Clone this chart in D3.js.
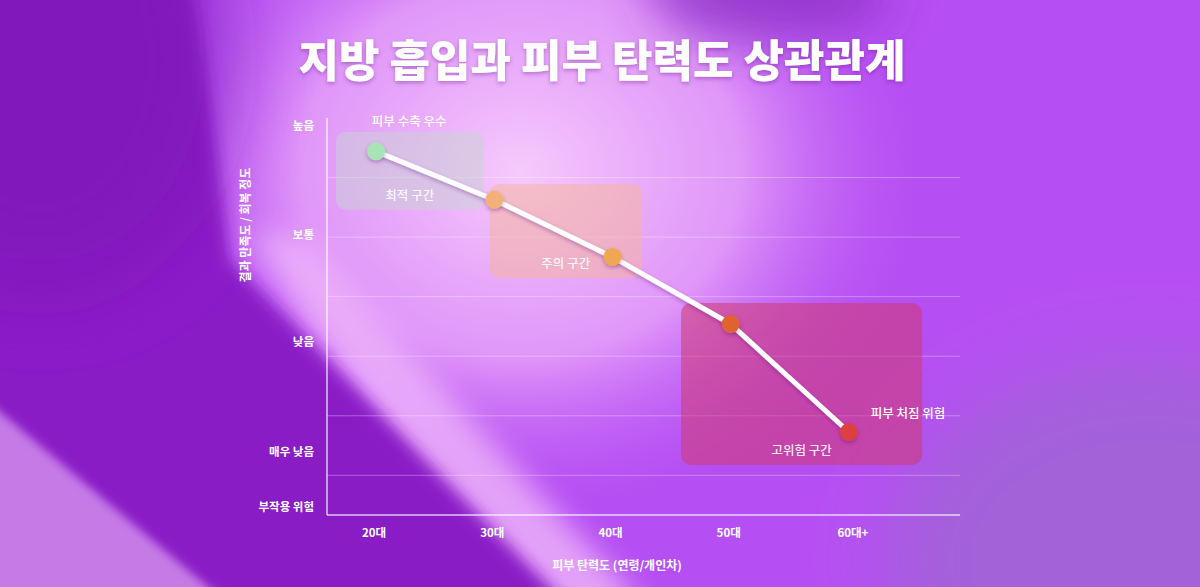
<!DOCTYPE html>
<html>
<head>
<meta charset="utf-8">
<script src="https://cdn.jsdelivr.net/npm/d3@7"></script>
<style>
  html, body { margin: 0; padding: 0; background: #b54ef2; }
  svg { display: block; font-family: "Noto Sans CJK KR", "Noto Sans", sans-serif; }
</style>
</head>
<body>
<div class="chart"></div>
<script>
// data
const ages = [20, 30, 40, 50, 60]
const ageLabels = ["20대", "30대", "40대", "50대", "60대+"]
const recovery = [91.6, 79.4, 65, 48.1, 20.9]
const pointColors = ["#a7e4b6", "#f2b277", "#eea752", "#e0622f", "#dc4141"]

const levelValues = [98, 70.5, 43.5, 16, 2]
const levelLabels = ["높음", "보통", "낮음", "매우 낮음", "부작용 위험"]
const gridValues = [10, 25, 40, 55, 70, 85]

const zoneNames = ["최적 구간", "주의 구간", "고위험 구간"]
const zoneAgeFrom = [16.6, 29.6, 45.8]
const zoneAgeTo = [29.1, 42.5, 66.2]
const zoneHigh = [96.5, 83.4, 53.4]
const zoneLow = [76.9, 59.7, 12.6]
const zoneFills = ["rgba(200,212,210,0.5)", "rgba(245,182,150,0.5)", "rgba(208,58,112,0.55)"]

const notes = ["피부 수축 우수", "피부 처짐 위험"]
const noteAge = [22.8, 65]
const noteValue = [99, 25.5]

const W = 1200, H = 587

const svg = d3.select(".chart")
    .append("svg")
    .attr("width", W)
    .attr("height", H)

const defs = svg.append("defs")

const blur = (id, s) => defs.append("filter")
    .attr("id", id)
    .attr("filterUnits", "userSpaceOnUse")
    .attr("x", -300).attr("y", -300)
    .attr("width", 1800).attr("height", 1200)
    .append("feGaussianBlur").attr("stdDeviation", s)
blur("b40", 40)
blur("b25", 25)
blur("b14", 14)
blur("b8", 8)
blur("b5", 5)

const glow = defs.append("radialGradient").attr("id", "glow")
glow.append("stop").attr("offset", "0%").attr("stop-color", "#f6cafc")
glow.append("stop").attr("offset", "55%").attr("stop-color", "#eaa8fa").attr("stop-opacity", 0.8)
glow.append("stop").attr("offset", "100%").attr("stop-color", "#c060f5").attr("stop-opacity", 0)

const shadow = defs.append("filter").attr("id", "shadow")
    .attr("x", "-20%").attr("y", "-20%").attr("width", "140%").attr("height", "160%")
shadow.append("feDropShadow")
    .attr("dx", 0).attr("dy", 2).attr("stdDeviation", 2)
    .attr("flood-color", "#5a1080").attr("flood-opacity", 0.35)

// background
const bg = svg.append("g")
bg.append("rect").attr("width", W).attr("height", H).attr("fill", "#b64ff3")
bg.append("ellipse").attr("cx", 1150).attr("cy", 560).attr("rx", 260).attr("ry", 200)
    .attr("fill", "#a262d8").attr("filter", "url(#b40)")
bg.append("ellipse").attr("cx", 520).attr("cy", 170).attr("rx", 400).attr("ry", 340)
    .attr("fill", "url(#glow)")
bg.append("ellipse").attr("cx", 770).attr("cy", -5).attr("rx", 120).attr("ry", 45)
    .attr("fill", "#8e32c6").attr("opacity", 0.8).attr("filter", "url(#b25)")
// bright streak along the wedge
bg.append("path")
    .attr("d", "M250,230 L310,240 L470,420 L640,600 L560,640 L420,500 Z")
    .attr("fill", "#efb6fa").attr("opacity", 0.8).attr("filter", "url(#b14)")
// dark left wedge
bg.append("path")
    .attr("d", "M-50,-50 L190,-50 L210,100 L230,260 L550,587 L600,640 L260,640 L-50,385 Z")
    .attr("fill", "#8a1cc6").attr("filter", "url(#b8)")
bg.append("ellipse").attr("cx", 40).attr("cy", 60).attr("rx", 190).attr("ry", 230)
    .attr("fill", "#7a16b4").attr("opacity", 0.55).attr("filter", "url(#b40)")
// lighter bottom-left corner
bg.append("path")
    .attr("d", "M-50,370 L270,640 L-50,640 Z")
    .attr("fill", "#c57ae6").attr("filter", "url(#b5)")

// scales
const x = d3.scaleLinear().domain([15.85, 69.4]).range([327, 960])
const y = d3.scaleLinear().domain([0, 100]).range([515, 118])

// title
svg.append("text")
    .attr("x", 602).attr("y", 77)
    .attr("text-anchor", "middle")
    .attr("fill", "#fff")
    .attr("font-size", 44)
    .attr("font-weight", 900)
    .attr("filter", "url(#shadow)")
    .text("지방 흡입과 피부 탄력도 상관관계")

// grid
svg.append("g")
    .selectAll("line")
    .data(gridValues)
    .enter().append("line")
    .attr("x1", x.range()[0]).attr("x2", x.range()[1])
    .attr("y1", d => y(d)).attr("y2", d => y(d))
    .attr("stroke", "rgba(255,255,255,0.3)")
    .attr("stroke-width", 1)

// zones
const zones = svg.append("g")
zones.selectAll("rect")
    .data(zoneNames)
    .enter().append("rect")
    .attr("x", (d, i) => x(zoneAgeFrom[i]))
    .attr("y", (d, i) => y(zoneHigh[i]))
    .attr("width", (d, i) => x(zoneAgeTo[i]) - x(zoneAgeFrom[i]))
    .attr("height", (d, i) => y(zoneLow[i]) - y(zoneHigh[i]))
    .attr("rx", 10)
    .attr("fill", (d, i) => zoneFills[i])

zones.selectAll("text")
    .data(zoneNames)
    .enter().append("text")
    .attr("x", (d, i) => (x(zoneAgeFrom[i]) + x(zoneAgeTo[i])) / 2)
    .attr("y", (d, i) => y(zoneLow[i]) - 10)
    .attr("text-anchor", "middle")
    .attr("fill", "rgba(255,255,255,0.9)")
    .attr("font-size", 12.5)
    .attr("font-weight", 500)
    .text(d => d)

// axes
const axes = svg.append("g").attr("stroke", "rgba(255,255,255,0.75)").attr("stroke-width", 1.5)
axes.append("line")
    .attr("x1", x.range()[0]).attr("x2", x.range()[0])
    .attr("y1", y.range()[1]).attr("y2", y.range()[0])
axes.append("line")
    .attr("x1", x.range()[0]).attr("x2", x.range()[1])
    .attr("y1", y.range()[0]).attr("y2", y.range()[0])

svg.append("g")
    .selectAll("text")
    .data(levelLabels)
    .enter().append("text")
    .attr("x", 314)
    .attr("y", (d, i) => y(levelValues[i]))
    .attr("dy", "0.35em")
    .attr("text-anchor", "end")
    .attr("fill", "#fff")
    .attr("font-size", 11.5)
    .attr("font-weight", 700)
    .text(d => d)

svg.append("g")
    .selectAll("text")
    .data(ageLabels)
    .enter().append("text")
    .attr("x", (d, i) => x(ages[i]) + (i === 4 ? 4 : -2))
    .attr("y", 537)
    .attr("text-anchor", "middle")
    .attr("fill", "#fff")
    .attr("font-size", 11.5)
    .attr("font-weight", 700)
    .text(d => d)

svg.append("text")
    .attr("x", 617).attr("y", 570)
    .attr("text-anchor", "middle")
    .attr("fill", "#fff")
    .attr("font-size", 12)
    .attr("font-weight", 700)
    .text("피부 탄력도 (연령/개인차)")

svg.append("text")
    .attr("transform", "translate(250,225) rotate(-90)")
    .attr("text-anchor", "middle")
    .attr("fill", "#fff")
    .attr("font-size", 12)
    .attr("font-weight", 700)
    .text("결과 만족도 / 회복 정도")

// line + points
const line = d3.line()
    .x((d, i) => x(ages[i]))
    .y(d => y(d))

svg.append("path")
    .datum(recovery)
    .attr("d", line)
    .attr("fill", "none")
    .attr("stroke", "#fff")
    .attr("stroke-width", 5)
    .attr("stroke-linejoin", "round")
    .attr("filter", "url(#shadow)")

svg.append("g")
    .selectAll("circle")
    .data(recovery)
    .enter().append("circle")
    .attr("cx", (d, i) => x(ages[i]))
    .attr("cy", d => y(d))
    .attr("r", 9)
    .attr("fill", (d, i) => pointColors[i])
    .attr("filter", "url(#shadow)")

// notes
svg.append("g")
    .selectAll("text")
    .data(notes)
    .enter().append("text")
    .attr("x", (d, i) => x(noteAge[i]))
    .attr("y", (d, i) => y(noteValue[i]))
    .attr("dy", "0.35em")
    .attr("text-anchor", "middle")
    .attr("fill", "#fff")
    .attr("font-size", 12.5)
    .attr("font-weight", 500)
    .text(d => d)
</script>
</body>
</html>
